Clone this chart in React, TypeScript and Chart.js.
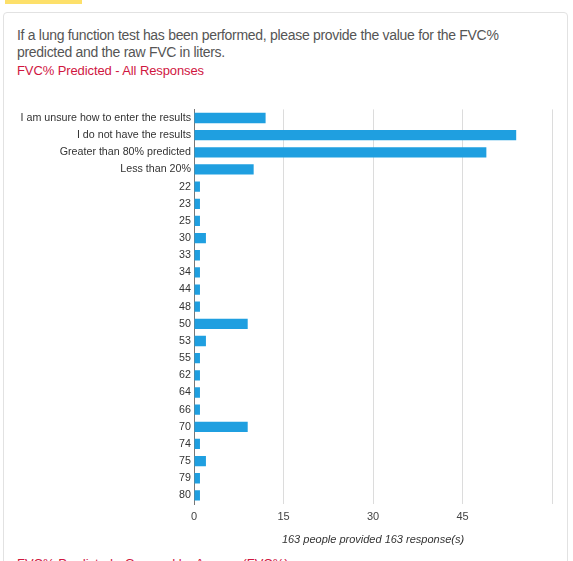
import React, { useRef, useEffect } from 'react';
import { Chart, registerables } from 'chart.js';

Chart.register(...registerables);

// answers to "FVC% predicted"
const categories: string[] = [
  'I am unsure how to enter the results',
  'I do not have the results',
  'Greater than 80% predicted',
  'Less than 20%',
  '22', '23', '25', '30', '33', '34', '44', '48', '50', '53',
  '55', '62', '64', '66', '70', '74', '75', '79', '80',
];

const responses: number[] = [
  12, 54, 49, 10,
  1, 1, 1, 2, 1, 1, 1, 1, 9, 2,
  1, 1, 1, 1, 9, 1, 2, 1, 1,
];

const xTicks: number[] = [0, 15, 30, 45];
const xMax = 60;

const FONT = '"Liberation Sans", Arial, sans-serif';

const BarChart: React.FC = () => {
  const chartRef = useRef<HTMLCanvasElement | null>(null);
  const chartInstance = useRef<Chart | null>(null);

  useEffect(() => {
    if (!chartRef.current) return;
    if (chartInstance.current) chartInstance.current.destroy();

    const ctx = chartRef.current.getContext('2d');
    if (!ctx) return;

    chartInstance.current = new Chart(ctx, {
      type: 'bar',
      data: {
        labels: categories,
        datasets: [
          {
            label: 'Responses',
            data: responses,
            backgroundColor: '#1f9fe0',
            borderWidth: 0,
            barPercentage: 0.6,
            categoryPercentage: 1,
          },
        ],
      },
      options: {
        indexAxis: 'y',
        animation: false,
        responsive: true,
        maintainAspectRatio: false,
        layout: { padding: { top: 7, right: 14, bottom: 0, left: 0 } },
        plugins: {
          legend: { display: false },
          tooltip: { enabled: false },
        },
        scales: {
          x: {
            min: 0,
            max: xMax,
            afterBuildTicks: (scale: any) => {
              scale.ticks = [...xTicks, xMax].map((v) => ({ value: v }));
            },
            afterFit: (scale: any) => {
              scale.height = 46;
            },
            grid: {
              color: '#dcdcdc',
              drawTicks: false,
            },
            border: { display: false },
            ticks: {
              padding: 6,
              color: '#444',
              font: { family: FONT, size: 11 },
              callback: (value: any) => (xTicks.includes(Number(value)) ? String(value) : ''),
            },
            title: {
              display: true,
              text: '163 people provided 163 response(s)',
              color: '#333',
              font: { family: FONT, size: 11, style: 'italic' },
              padding: { top: 0, bottom: 3 },
            },
          },
          y: {
            afterFit: (scale: any) => {
              scale.width = 184;
            },
            grid: { display: false, drawTicks: false },
            border: { display: true, color: '#777', width: 1 },
            ticks: {
              padding: 3,
              color: '#333',
              autoSkip: false,
              font: { family: FONT, size: 10.7 },
            },
          },
        },
      },
    });

    return () => {
      if (chartInstance.current) {
        chartInstance.current.destroy();
        chartInstance.current = null;
      }
    };
  }, []);

  return (
    <div style={{ position: 'absolute', left: 10, top: 100, width: 556, height: 450 }}>
      <canvas ref={chartRef}></canvas>
    </div>
  );
};

const App: React.FC = () => {
  return (
    <div
      style={{
        position: 'fixed',
        left: 0,
        top: 0,
        width: 573,
        height: 561,
        overflow: 'hidden',
        background: '#fff',
        fontFamily: FONT,
      }}
    >
      <div style={{ position: 'absolute', left: 5, top: 0, width: 77, height: 4, background: '#fde06a' }} />
      <div
        style={{
          position: 'absolute',
          left: 3,
          top: 12,
          width: 565,
          height: 620,
          boxSizing: 'border-box',
          border: '1px solid #e2e2e2',
          borderRadius: 4,
        }}
      />
      <div
        style={{
          position: 'absolute',
          left: 17,
          top: 27,
          fontSize: 14,
          letterSpacing: '-0.3px',
          lineHeight: '17px',
          color: '#555',
          whiteSpace: 'nowrap',
        }}
      >
        If a lung function test has been performed, please provide the value for the FVC%
        <br />
        predicted and the raw FVC in liters.
      </div>
      <div
        style={{
          position: 'absolute',
          left: 17,
          top: 63,
          fontSize: 13,
          letterSpacing: '-0.1px',
          lineHeight: '15px',
          color: '#d0163f',
          whiteSpace: 'nowrap',
        }}
      >
        FVC% Predicted - All Responses
      </div>
      <BarChart />
      <div
        style={{
          position: 'absolute',
          left: 17,
          top: 556,
          fontSize: 13,
          lineHeight: '15px',
          color: '#d0163f',
          whiteSpace: 'nowrap',
        }}
      >
        FVC% Predicted - Grouped by Answer (FVC%)
      </div>
    </div>
  );
};

export default App;
